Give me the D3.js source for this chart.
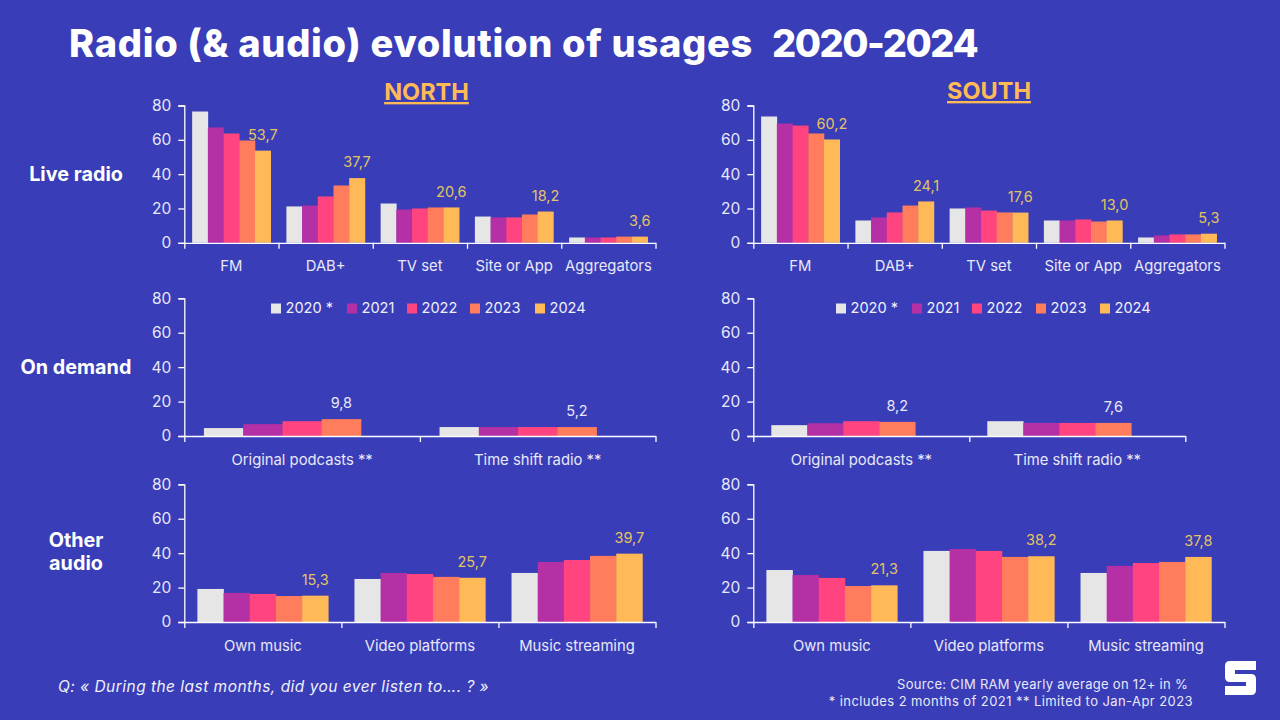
<!DOCTYPE html>
<html>
<head>
<meta charset="utf-8">
<script src="https://cdn.jsdelivr.net/npm/d3@7"></script>
<style>
  html, body { margin: 0; padding: 0; background: #393db7; }
  text { font-family: Inter, "Noto Sans", sans-serif; }
  .axis path, .axis line { stroke: #fff; stroke-width: 1.3; }
  .axis text { fill: #e8e8f8; font-size: 14.8px; }
</style>
</head>
<body>
<svg id="chart" width="1280" height="720"></svg>
<script>
// Series and colours
const years = ["2020 *", "2021", "2022", "2023", "2024"];
const colors = ["#e6e6e6", "#b52fa5", "#ff4480", "#ff7c5c", "#ffba57"];

const liveCats = ["FM", "DAB+", "TV set", "Site or App", "Aggregators"];
const demandCats = ["Original podcasts **", "Time shift radio **"];
const otherCats = ["Own music", "Video platforms", "Music streaming"];
const yTicks = [0, 20, 40, 60, 80];

// each row = one category, one value per year
const northLive = [
  [76.5, 67.2, 63.7, 59.6, 53.7],
  [21.2, 21.7, 27.0, 33.4, 37.7],
  [22.9, 19.4, 20.0, 20.6, 20.6],
  [15.3, 14.8, 14.8, 16.5, 18.2],
  [3.1, 3.1, 3.1, 3.6, 3.6]
];
const southLive = [
  [73.6, 69.5, 68.3, 63.7, 60.2],
  [13.0, 14.8, 17.7, 21.7, 24.1],
  [20.0, 20.6, 18.8, 17.7, 17.6],
  [13.0, 13.0, 13.6, 12.4, 13.0],
  [3.1, 4.3, 4.9, 4.9, 5.3]
];
// no 2024 figures yet for on demand
const northDemand = [
  [4.6, 6.9, 8.6, 9.8, null],
  [5.2, 5.2, 5.2, 5.2, null]
];
const southDemand = [
  [6.3, 7.4, 8.6, 8.2, null],
  [8.6, 7.6, 7.6, 7.6, null]
];
const northOther = [
  [19.2, 16.9, 16.3, 15.1, 15.3],
  [25.0, 28.5, 27.9, 26.2, 25.7],
  [28.5, 34.9, 36.0, 38.4, 39.7]
];
const southOther = [
  [30.2, 27.3, 25.6, 20.9, 21.3],
  [41.3, 42.4, 41.3, 37.8, 38.2],
  [28.5, 32.6, 34.3, 34.9, 37.8]
];

const svg = d3.select("#chart");

// Draw one small chart: axes, grouped bars, label on the last bar of each group
function drawPanel(cats, rows, x0, x1, yTop, yBase, labelColor, catPad) {
  const y = d3.scaleLinear().domain([0, 80]).range([yBase, yTop]);
  const xOuter = d3.scaleBand().domain(cats).range([x0, x1])
    .paddingInner(1 / 6).paddingOuter(1 / 12);
  const xInner = d3.scaleBand().domain(d3.range(years.length))
    .range([0, xOuter.bandwidth()]);
  const edge = d3.scaleLinear().domain([0, cats.length]).range([x0, x1]);

  const g = svg.append("g");

  const groups = g.selectAll(".group")
    .data(rows)
    .enter()
    .append("g")
    .attr("transform", (d, i) => "translate(" + xOuter(cats[i]) + ",0)");

  groups.selectAll("rect")
    .data(d => d.map((v, i) => ({ v: v, i: i })).filter(e => e.v !== null))
    .enter()
    .append("rect")
    .attr("x", e => xInner(e.i))
    .attr("y", e => y(e.v))
    .attr("width", xInner.bandwidth() + 0.3)
    .attr("height", e => y(0) - y(e.v))
    .attr("fill", e => colors[e.i]);

  // value label sits 16px above the newest bar that exists
  groups.append("text")
    .attr("x", d => xInner(d3.max(d.map((v, i) => v === null ? -1 : i))) + xInner.bandwidth() / 2)
    .attr("y", d => y(d.filter(v => v !== null).slice(-1)[0]) - 16)
    .attr("dy", ".35em")
    .attr("text-anchor", "middle")
    .style("font-size", "14.5px")
    .style("fill", labelColor)
    .text(d => String(d.filter(v => v !== null).slice(-1)[0].toFixed(1)).replace(".", ","));

  g.append("g")
    .attr("class", "axis")
    .attr("transform", "translate(" + x0 + ",0)")
    .call(d3.axisLeft(y).tickValues(yTicks).tickSize(6).tickPadding(7))
    .call(a => a.selectAll("text").style("font-size", "15.5px"));

  // ticks sit on the borders between categories
  g.append("g")
    .attr("class", "axis")
    .attr("transform", "translate(0," + yBase + ")")
    .call(d3.axisBottom(edge).tickValues(d3.range(cats.length + 1)).tickFormat("").tickSize(6).tickSizeOuter(0));

  const labels = g.append("g")
    .attr("class", "axis")
    .attr("transform", "translate(0," + yBase + ")")
    .call(d3.axisBottom(xOuter).tickSize(0).tickPadding(catPad));
  labels.select("path").remove();
}

drawPanel(liveCats, northLive, 184.3, 655.5, 105.5, 242.8, "#e3c463", 17.5);
drawPanel(liveCats, southLive, 753.3, 1224.5, 105.5, 242.8, "#e3c463", 17.5);
drawPanel(demandCats, northDemand, 184.3, 655.5, 298.3, 436, "#e8e8f8", 18.5);
drawPanel(demandCats, southDemand, 753.3, 1185.3, 298.3, 436, "#e8e8f8", 18.5);
drawPanel(otherCats, northOther, 184.3, 655.5, 484.3, 622, "#e3c463", 18);
drawPanel(otherCats, southOther, 753.3, 1224.5, 484.3, 622, "#e3c463", 18);

// Legends inside the on demand panels
function drawLegend(xs) {
  const legend = svg.selectAll(null)
    .data(years)
    .enter()
    .append("g")
    .attr("transform", (d, i) => "translate(" + xs[i] + ",303.5)");
  legend.append("rect")
    .attr("width", 10)
    .attr("height", 10)
    .attr("fill", (d, i) => colors[i]);
  legend.append("text")
    .attr("x", 14.5)
    .attr("y", 4.5)
    .attr("dy", ".35em")
    .style("font-size", "14.6px")
    .style("fill", "#f0f0fa")
    .text(d => d);
}
drawLegend([271, 347, 407, 470, 535]);
drawLegend([836, 912, 972, 1036, 1100]);

// Title
const title = svg.append("text")
  .attr("x", 69)
  .attr("y", 57)
  .style("font-size", "38px")
  .style("font-weight", 800)
  .style("letter-spacing", "0.7px")
  .style("fill", "#fff")
  .text("Radio (& audio) evolution of usages");
title.append("tspan")
  .attr("x", 772)
  .style("letter-spacing", "-1.5px")
  .text("2020-2024");

// Region headers
[["NORTH", 426.5, 100], ["SOUTH", 989, 99]].forEach(function(h) {
  svg.append("text")
    .attr("x", h[1])
    .attr("y", h[2])
    .attr("text-anchor", "middle")
    .style("font-size", "23.5px")
    .style("font-weight", 700)
    .style("fill", "#ffba57")
    .style("text-decoration", "underline")
    .text(h[0]);
});

// Row names
[["Live radio", 76, 181], ["On demand", 76, 374], ["Other", 76, 547], ["audio", 76, 570]].forEach(function(r) {
  svg.append("text")
    .attr("x", r[1])
    .attr("y", r[2])
    .attr("text-anchor", "middle")
    .style("font-size", "19.8px")
    .style("font-weight", 700)
    .style("fill", "#fff")
    .text(r[0]);
});

// Footer
svg.append("text")
  .attr("x", 58)
  .attr("y", 692)
  .style("font-size", "15.5px")
  .style("font-style", "italic")
  .style("letter-spacing", "0.47px")
  .style("fill", "#f0f0fa")
  .text("Q: « During the last months, did you ever listen to…. ? »");

[["Source: CIM RAM yearly average on 12+ in %", 1188, 689, "0.3px"], ["* includes 2 months of 2021 ** Limited to Jan-Apr 2023", 1193, 706, "0.42px"]].forEach(function(s) {
  svg.append("text")
    .attr("x", s[1])
    .attr("y", s[2])
    .attr("text-anchor", "end")
    .style("font-size", "13px")
    .style("letter-spacing", s[3])
    .style("fill", "#e8e8f8")
    .text(s[0]);
});

// Logo
svg.append("path")
  .attr("d", "M1230 661H1256V670H1235V674H1251Q1256 674 1256 679V690Q1256 695 1251 695H1225V686H1246V682H1230Q1225 682 1225 677V666Q1225 661 1230 661Z")
  .attr("fill", "#fff");
</script>
</body>
</html>
